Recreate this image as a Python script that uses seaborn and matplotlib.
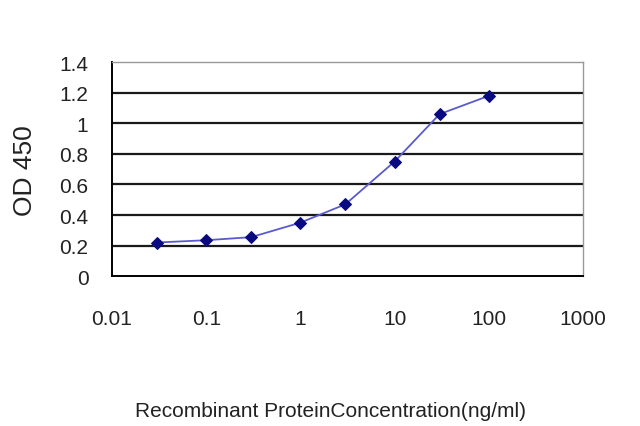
import matplotlib
matplotlib.use("Agg")
import matplotlib.pyplot as plt
import seaborn as sns
import pandas as pd

# values
concentration = [0.03, 0.1, 0.3, 1, 3, 10, 30, 100]
od450 = [0.22, 0.235, 0.255, 0.35, 0.47, 0.75, 1.06, 1.18]

x_ticks = [0.01, 0.1, 1, 10, 100, 1000]
x_labels = ["0.01", "0.1", "1", "10", "100", "1000"]
y_ticks = [0, 0.2, 0.4, 0.6, 0.8, 1.0, 1.2, 1.4]
y_labels = ["0", "0.2", "0.4", "0.6", "0.8", "1", "1.2", "1.4"]

df = pd.DataFrame({"conc": concentration, "od": od450})

sns.set_style("white")
plt.rcParams['font.family'] = ['Liberation Sans', 'DejaVu Sans']

fig = plt.figure(figsize=(6.4, 4.27), dpi=100)
ax = fig.add_axes([0.175, 0.351, 0.736, 0.501])

# horizontal grid lines (dark, like the Excel original)
for v in y_ticks[1:-1]:
    ax.axhline(v, color='#1a1a1a', linewidth=1.6, zorder=1)

sns.lineplot(data=df, x="conc", y="od", ax=ax, color='#5a5ad0', linewidth=1.3,
             marker='D', markersize=6, markerfacecolor='#0a0a80',
             markeredgecolor='#0a0a80', zorder=3)

ax.set_xscale('log')
ax.set_xlim(0.01, 1000)
ax.set_ylim(0, 1.4)
ax.set_xticks(x_ticks)
ax.set_xticklabels(x_labels)
ax.set_yticks(y_ticks)
ax.set_yticklabels(y_labels)
ax.minorticks_off()

ax.tick_params(axis='x', direction='out', length=4, width=1, color='black',
               pad=20, labelsize=15, labelcolor='#222222')
ax.tick_params(axis='y', direction='out', length=4, width=1, color='black',
               pad=13, labelsize=15, labelcolor='#222222')

for side in ['left', 'bottom']:
    ax.spines[side].set_color('black')
    ax.spines[side].set_linewidth(1.4)
for side in ['top', 'right']:
    ax.spines[side].set_color('#999999')
    ax.spines[side].set_linewidth(1.0)

ax.set_xlabel("Recombinant ProteinConcentration(ng/ml)", fontsize=15,
              color='#222222')
ax.xaxis.set_label_coords(0.463, -0.584)
ax.set_ylabel("OD 450", fontsize=19, color='#222222')
ax.yaxis.set_label_coords(-0.16, 0.5)

fig.savefig("out.png", dpi=100)
